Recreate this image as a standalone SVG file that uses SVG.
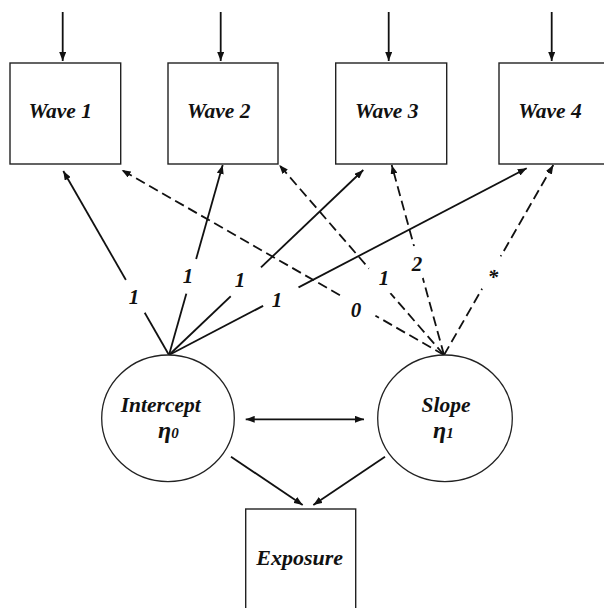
<svg xmlns="http://www.w3.org/2000/svg" width="604" height="608" viewBox="0 0 604 608">
<style>
.box{fill:#fff;stroke:#222;stroke-width:1.4}
.lat{fill:#fff;stroke:#222;stroke-width:1.3}
.t{font-family:"Liberation Serif","Times New Roman",serif;font-weight:bold;font-style:italic;fill:#111}
.solid{stroke:#111;stroke-width:1.8;fill:none}
.dash{stroke:#111;stroke-width:1.8;fill:none;stroke-dasharray:10 5}
.gap{fill:#fff;stroke:none}
</style>
<defs>
<marker id="ah" viewBox="0 0 9 7" refX="9" refY="3.5" markerWidth="9" markerHeight="7" markerUnits="userSpaceOnUse" orient="auto-start-reverse">
<path d="M0,0 L9,3.5 L0,7 z" fill="#111"/>
</marker>
</defs>

<g id="connectors">
<line class="solid" x1="62.7" y1="12" x2="62.7" y2="61" marker-end="url(#ah)"/>
<line class="solid" x1="220.7" y1="12" x2="220.7" y2="61" marker-end="url(#ah)"/>
<line class="solid" x1="388.7" y1="12" x2="388.7" y2="61" marker-end="url(#ah)"/>
<line class="solid" x1="551.7" y1="12" x2="551.7" y2="61" marker-end="url(#ah)"/>

<line class="solid" x1="169" y1="355" x2="63.3" y2="171" marker-end="url(#ah)"/>
<line class="solid" x1="169" y1="355" x2="222.7" y2="165" marker-end="url(#ah)"/>
<line class="solid" x1="169" y1="355" x2="363.3" y2="170" marker-end="url(#ah)"/>
<line class="solid" x1="169" y1="355" x2="526.7" y2="168.3" marker-end="url(#ah)"/>

<line class="dash" x1="444" y1="355" x2="121.7" y2="170" marker-end="url(#ah)"/>
<line class="dash" x1="444" y1="355" x2="279.3" y2="165" marker-end="url(#ah)"/>
<line class="dash" x1="444" y1="355" x2="391.7" y2="165" marker-end="url(#ah)"/>
<line class="dash" x1="444" y1="355" x2="553.3" y2="165" marker-end="url(#ah)"/>

<line class="solid" x1="245.7" y1="419.3" x2="364" y2="419.3" marker-start="url(#ah)" marker-end="url(#ah)"/>
<line class="solid" x1="231" y1="456.7" x2="302.7" y2="505" marker-end="url(#ah)"/>
<line class="solid" x1="385" y1="456.7" x2="313.3" y2="505" marker-end="url(#ah)"/>
</g>

<g id="labels">
<circle class="gap" cx="134" cy="297" r="19"/>
<circle class="gap" cx="190" cy="276" r="18"/>
<circle class="gap" cx="246" cy="282" r="21"/>
<circle class="gap" cx="281" cy="297" r="20"/>
<circle class="gap" cx="358" cy="306" r="20"/>
<circle class="gap" cx="383" cy="278" r="17"/>
<circle class="gap" cx="415" cy="263" r="17"/>
<circle class="gap" cx="494" cy="274" r="19"/>
<text class="t" font-size="21" x="134" y="304" text-anchor="middle">1</text>
<text class="t" font-size="21" x="188" y="283" text-anchor="middle">1</text>
<text class="t" font-size="21" x="240" y="287" text-anchor="middle">1</text>
<text class="t" font-size="21" x="277" y="307" text-anchor="middle">1</text>
<text class="t" font-size="21" x="356" y="317" text-anchor="middle">0</text>
<text class="t" font-size="21" x="384" y="285" text-anchor="middle">1</text>
<text class="t" font-size="21" x="417" y="271" text-anchor="middle">2</text>
<text class="t" font-size="21" x="493" y="284" text-anchor="middle">*</text>
</g>

<g id="wave1">
<rect class="box" x="10" y="63" width="110.7" height="101"/>
<text class="t" font-size="21.5" x="60.3" y="118" text-anchor="middle">Wave 1</text>
</g>
<g id="wave2">
<rect class="box" x="168" y="63" width="110" height="101"/>
<text class="t" font-size="21.5" x="218.7" y="118" text-anchor="middle">Wave 2</text>
</g>
<g id="wave3">
<rect class="box" x="335.7" y="63" width="111" height="101"/>
<text class="t" font-size="21.5" x="386.7" y="118" text-anchor="middle">Wave 3</text>
</g>
<g id="wave4">
<rect class="box" x="499" y="63" width="111" height="101"/>
<text class="t" font-size="21.5" x="550" y="118" text-anchor="middle">Wave 4</text>
</g>

<g id="intercept">
<ellipse class="lat" cx="168" cy="418.3" rx="66.3" ry="63.3"/>
<text class="t" font-size="21.5" x="160.7" y="411.7" text-anchor="middle">Intercept</text>
<text class="t" font-size="24" x="158" y="438">η<tspan font-size="15">0</tspan></text>
</g>
<g id="slope">
<ellipse class="lat" cx="445" cy="418.3" rx="67.3" ry="63.3"/>
<text class="t" font-size="21.5" x="446" y="411.7" text-anchor="middle">Slope</text>
<text class="t" font-size="24" x="433" y="438">η<tspan font-size="15">1</tspan></text>
</g>

<g id="exposure">
<rect class="box" x="245.7" y="509" width="110" height="110"/>
<text class="t" font-size="22" x="299.7" y="565" text-anchor="middle">Exposure</text>
</g>
</svg>
